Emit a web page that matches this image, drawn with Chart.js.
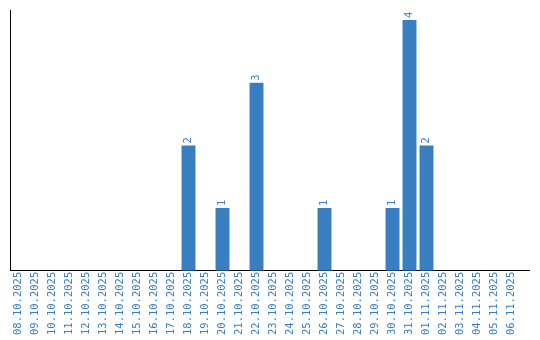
<!DOCTYPE html>
<html>
<head>
<meta charset="utf-8">
<style>
  html, body { margin: 0; padding: 0; background: #fff; }
</style>
<script src="https://cdn.jsdelivr.net/npm/chart.js@4"></script>
</head>
<body>
<canvas id="barChar" width="540" height="340"></canvas>
<script>
const dayLabels = [
    '08.10.2025', '09.10.2025', '10.10.2025', '11.10.2025', '12.10.2025',
    '13.10.2025', '14.10.2025', '15.10.2025', '16.10.2025', '17.10.2025',
    '18.10.2025', '19.10.2025', '20.10.2025', '21.10.2025', '22.10.2025',
    '23.10.2025', '24.10.2025', '25.10.2025', '26.10.2025', '27.10.2025',
    '28.10.2025', '29.10.2025', '30.10.2025', '31.10.2025', '01.11.2025',
    '02.11.2025', '03.11.2025', '04.11.2025', '05.11.2025', '06.11.2025'
];
const dayCounts = [
    0, 0, 0, 0, 0,
    0, 0, 0, 0, 0,
    2, 0, 1, 0, 3,
    0, 0, 0, 1, 0,
    0, 0, 1, 4, 2,
    0, 0, 0, 0, 0
];

const blue = '#3a7ec2';
const monoFont = { family: 'DejaVu Sans Mono', size: 10.5 };

// value written above each bar, turned like the axis labels
const barValues = {
    id: 'barValues',
    afterDatasetsDraw(chart) {
        const ctx = chart.ctx;
        const meta = chart.getDatasetMeta(0);
        ctx.save();
        ctx.font = monoFont.size + 'px "' + monoFont.family + '"';
        ctx.fillStyle = blue;
        ctx.textAlign = 'left';
        ctx.textBaseline = 'middle';
        meta.data.forEach((bar, i) => {
            const v = dayCounts[i];
            if (!v) return;
            ctx.save();
            ctx.translate(bar.x, bar.y - 2);
            ctx.rotate(-Math.PI / 2);
            ctx.fillText(String(v), 0, 0);
            ctx.restore();
        });
        ctx.restore();
    }
};

// the bottom axis line runs a bit past the last day
const axisTail = {
    id: 'axisTail',
    afterDraw(chart) {
        const a = chart.chartArea;
        const ctx = chart.ctx;
        const y = Math.round(chart.scales.x.top - 0.5) + 0.5;
        ctx.save();
        ctx.strokeStyle = '#000';
        ctx.lineWidth = 1;
        ctx.beginPath();
        ctx.moveTo(a.right, y);
        ctx.lineTo(a.right + 10, y);
        ctx.stroke();
        ctx.restore();
    }
};

const barData = {
    labels: dayLabels,
    datasets: [{
        data: dayCounts,
        backgroundColor: blue,
        borderWidth: 0,
        categoryPercentage: 1,
        barPercentage: 0.82
    }]
};

const barConfig = {
    type: 'bar',
    data: barData,
    options: {
        responsive: false,
        animation: false,
        layout: {
            padding: { left: 10, top: 10, right: 20, bottom: 4 }
        },
        scales: {
            x: {
                grid: { display: false, drawTicks: false },
                border: { display: true, color: '#000', width: 1 },
                ticks: {
                    color: blue,
                    font: monoFont,
                    minRotation: 90,
                    maxRotation: 90,
                    autoSkip: false,
                    padding: 1
                }
            },
            y: {
                min: 0,
                max: 4.16,
                grid: { display: false, drawTicks: false },
                border: { display: true, color: '#000', width: 1 },
                ticks: { display: false }
            }
        },
        plugins: {
            legend: { display: false },
            title: { display: false },
            tooltip: { enabled: false }
        }
    },
    plugins: [barValues, axisTail]
};

const barCha = new Chart(document.getElementById('barChar'), barConfig);
</script>
</body>
</html>
